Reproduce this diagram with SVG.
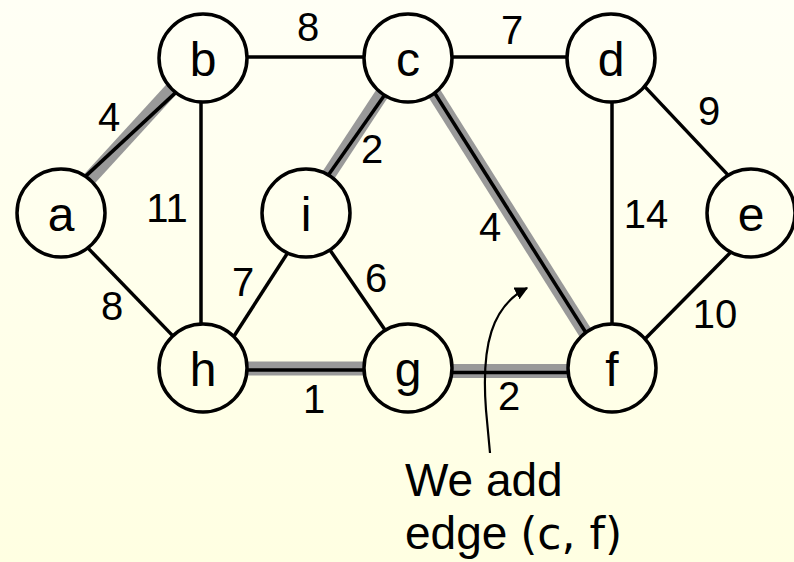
<svg xmlns="http://www.w3.org/2000/svg" width="794" height="562" viewBox="0 0 794 562">
  <defs>
    <linearGradient id="paper" gradientUnits="userSpaceOnUse" x1="0" y1="0" x2="0" y2="562">
      <stop offset="0" stop-color="#FFFFF5"/>
      <stop offset="1" stop-color="#FFFFE2"/>
    </linearGradient>
    <marker id="head" viewBox="0 0 10 10" refX="9" refY="5" markerWidth="6" markerHeight="6" orient="auto" markerUnits="strokeWidth">
      <path d="M0,0 L10,5 L0,10 Z" fill="#000"/>
    </marker>
    <style>
      .edge { stroke: #000; stroke-width: 3.5; fill: none; }
      .tree { stroke: #999; stroke-width: 14; fill: none; }
      .node circle { fill: url(#paper); stroke: #000; stroke-width: 3.5; }
      .node text { font-family: "Liberation Sans", Arial, sans-serif; font-size: 48px; text-anchor: middle; fill: #000; }
      .w { font-family: "Liberation Sans", Arial, sans-serif; font-size: 40px; text-anchor: middle; fill: #000; }
      .note { font-family: "Liberation Sans", Arial, sans-serif; font-size: 46px; fill: #000; }
      .alt { font-family: "DejaVu Sans", sans-serif; font-size: 44px; }
    </style>
  </defs>

  <rect width="794" height="562" fill="url(#paper)"/>

  <g id="connectors">
    <!-- tree edges: grey band under the black line -->
    <g transform="translate(-1.5,-1.5)">
      <line class="tree" x1="61" y1="213" x2="203" y2="58"/>
      <line class="tree" x1="408" y1="58" x2="306" y2="213"/>
      <line class="tree" x1="432" y1="88.8" x2="588" y2="336"/>
      <line class="tree" x1="203" y1="370" x2="408" y2="370"/>
      <line class="tree" x1="408" y1="372.5" x2="612" y2="372.5"/>
    </g>
    <line class="edge" x1="83.3" y1="178.4" x2="176.7" y2="91.6"/>
    <line class="edge" x1="245" y1="57" x2="366" y2="57"/>
    <line class="edge" x1="201" y1="100" x2="201" y2="326"/>
    <line class="edge" x1="450" y1="57" x2="569" y2="57"/>
    <line class="edge" x1="386" y1="93" x2="327" y2="177"/>
    <line class="edge" x1="432" y1="88.8" x2="588" y2="336"/>
    <line class="edge" x1="643.6" y1="85.4" x2="731.4" y2="178.6"/>
    <line class="edge" x1="612" y1="100" x2="612" y2="326"/>
    <line class="edge" x1="733.5" y1="249.4" x2="643.5" y2="340.6"/>
    <line class="edge" x1="287.7" y1="252.8" x2="233.3" y2="337.2"/>
    <line class="edge" x1="329.2" y1="248.9" x2="387.8" y2="334.1"/>
    <line class="edge" x1="83.5" y1="243.4" x2="175.5" y2="338.6"/>
    <line class="edge" x1="245" y1="370" x2="366" y2="370"/>
    <line class="edge" x1="450" y1="372.5" x2="570" y2="372.5"/>
  </g>

  <g id="weights">
    <text class="w" x="109" y="131">4</text>
    <text class="w" x="308" y="41">8</text>
    <text class="w" x="512" y="44">7</text>
    <text class="w" x="372" y="163">2</text>
    <text class="w" x="167" y="222">11</text>
    <text class="w" x="709" y="125">9</text>
    <text class="w" x="646" y="228">14</text>
    <text class="w" x="490" y="241">4</text>
    <text class="w" x="243" y="296">7</text>
    <text class="w" x="376" y="292">6</text>
    <text class="w" x="112" y="320">8</text>
    <text class="w" x="314" y="413">1</text>
    <text class="w" x="509" y="410">2</text>
    <text class="w" x="715" y="328">10</text>
  </g>

  <g id="node-a" class="node"><circle cx="61" cy="213" r="44"/><text x="61" y="231">a</text></g>
  <g id="node-b" class="node"><circle cx="203" cy="58" r="44"/><text x="203" y="76">b</text></g>
  <g id="node-c" class="node"><circle cx="408" cy="58" r="44"/><text x="408" y="76">c</text></g>
  <g id="node-d" class="node"><circle cx="611" cy="58" r="44"/><text x="611" y="76">d</text></g>
  <g id="node-e" class="node"><circle cx="751" cy="213" r="44"/><text x="751" y="231">e</text></g>
  <g id="node-i" class="node"><circle cx="306" cy="213" r="44"/><text x="306" y="231">i</text></g>
  <g id="node-h" class="node"><circle cx="203" cy="368" r="44"/><text x="203" y="386">h</text></g>
  <g id="node-g" class="node"><circle cx="408" cy="368" r="44"/><text x="408" y="386">g</text></g>
  <g id="node-f" class="node"><circle cx="612" cy="368" r="44"/><text x="612" y="386">f</text></g>

  <g id="note">
    <path d="M490,453 L486,410 C481,345 492,306 527,288" fill="none" stroke="#000" stroke-width="2.2" marker-end="url(#head)"/>
    <text class="note" x="405" y="496">We add</text>
    <text class="note" x="405" y="549">edge <tspan class="alt">(c, f)</tspan></text>
  </g>
</svg>
